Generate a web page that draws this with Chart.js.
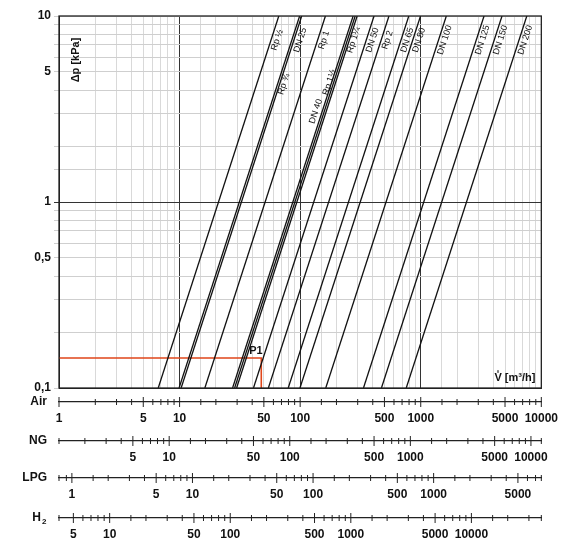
<!DOCTYPE html>
<html><head><meta charset="utf-8">
<script src="https://cdn.jsdelivr.net/npm/chart.js@4.4.0/dist/chart.umd.min.js"></script>
<style>html,body{margin:0;padding:0;background:#fff}#w{width:567px;height:539px}</style>
</head><body><div id="w"><canvas id="c"></canvas></div>
<script>
// Pipe series: name, flow (m3/h, Air) at Δp = 0.1 kPa, Δp where label sits, label side
const lineNames = ["Rp ½","Rp ¾","DN 25","Rp 1","DN 40","Rp 1¼","Rp 1½","DN 50","Rp 2","DN 65","DN 80","DN 100","DN 125","DN 150","DN 200"];
const flowAtMin = [6.65, 9.9, 10.3, 16.2, 27.5, 28.6, 29.7, 41, 54.5, 79.6, 99.6, 163, 335, 472, 758];
const labelDp = [7.6, 4.4, 7.6, 7.6, 3.0, 7.6, 4.3, 7.6, 7.6, 7.6, 7.6, 7.6, 7.6, 7.6, 7.6];
const labelSide = [-1,-1,-1,-1,1,-1,1,-1,-1,-1,-1,-1,-1,-1,-1];
const yTickLabels = [0.1, 0.5, 1, 5, 10];
const p1Flow = 47.6, p1Dp = 0.145;
const subAxes = [
  {id:"xAir", name:"Air", min:1, max:10000},
  {id:"xNG", name:"NG", min:1.22, max:12190},
  {id:"xLPG", name:"LPG", min:0.782, max:7816},
  {id:"xH2", name:"H2", min:3.8, max:38000}
];
const subHeights = [39, 37, 40, 21];

const FONT = "'Liberation Sans', Arial, sans-serif";
const datasets = lineNames.map((n,i)=>({
  label:n, data:[{x:flowAtMin[i],y:0.1},{x:flowAtMin[i]*10,y:10}],
  borderColor:'#111', borderWidth:1.3, pointRadius:0, xAxisID:'x', yAxisID:'y'
}));
datasets.push({label:'P1', data:[{x:1,y:p1Dp},{x:p1Flow,y:p1Dp},{x:p1Flow,y:0.1}],
  borderColor:'#e0461a', borderWidth:1.6, pointRadius:0, xAxisID:'x', yAxisID:'y'});

function isLabeled(v){
  const m = v/Math.pow(10,Math.floor(Math.log10(v)+1e-9));
  return Math.abs(m-1)<1e-6 || Math.abs(m-5)<1e-6;
}
function fmt(v){ return String(+v.toPrecision(6)).replace('.',','); }

const scales = {
  x:{type:'logarithmic', min:1, max:10000, weight:0,
     ticks:{display:false, autoSkip:false},
     grid:{drawTicks:false, color:c=>{const v=c.tick&&c.tick.value; return (v===10||v===100||v===1000)?'#333':'#cfcfcf';}, lineWidth:c=>{const v=c.tick&&c.tick.value; return (v===10||v===100||v===1000)?1:0.8;}},
     border:{display:true,color:'#222'},
     afterFit:s=>{s.height=14;}},
  y:{type:'logarithmic', min:0.1, max:10,
     ticks:{autoSkip:false, color:'#111', font:{family:FONT,size:12,weight:'bold'}, padding:3,
       callback:(v)=>yTickLabels.some(t=>Math.abs(t-v)<1e-9)?fmt(v):''},
     grid:{tickLength:5, color:c=>{const v=c.tick&&c.tick.value; return (v===1)?'#333':'#cfcfcf';}},
     border:{display:true,color:'#222'},
     afterFit:s=>{s.width=59;}}
};
subAxes.forEach((a,i)=>{
  scales[a.id]={type:'logarithmic', axis:'x', position:'bottom', min:a.min, max:a.max, weight:i+1,
    ticks:{autoSkip:false, maxRotation:0, color:'#111', padding:9, font:{family:FONT,size:12,weight:'bold'},
      callback:(v)=>isLabeled(v)?String(Math.round(v)):''},
    grid:{display:false, drawTicks:false},
    border:{display:true,color:'#222',width:1.2},
    afterFit:s=>{s.height=subHeights[i];}};
});

const deco = {
  id:'deco',
  afterDraw(chart){
    const ctx=chart.ctx, ca=chart.chartArea, x=chart.scales.x, y=chart.scales.y;
    ctx.save();
    ctx.strokeStyle='#222'; ctx.lineWidth=1.3;
    ctx.strokeRect(ca.left,ca.top,ca.right-ca.left,ca.bottom-ca.top);
    // sub-axis ticks and names
    subAxes.forEach(a=>{
      const s=chart.scales[a.id], yy=s.top;
      ctx.strokeStyle='#222'; ctx.lineWidth=1;
      s.ticks.forEach(t=>{
        const px=s.getPixelForValue(t.value); if(px<ca.left-0.5||px>ca.right+0.5) return;
        const L=isLabeled(t.value)?5:3;
        ctx.beginPath(); ctx.moveTo(px,yy-L); ctx.lineTo(px,yy+L); ctx.stroke();
      });
      ctx.fillStyle='#111'; ctx.font='bold 12px '+FONT; ctx.textAlign='right'; ctx.textBaseline='middle';
      if(a.name==='H2'){
        ctx.fillText('H',41,yy); ctx.font='bold 8px '+FONT; ctx.textAlign='left'; ctx.fillText('2',42,yy+4);
      } else ctx.fillText(a.name,47,yy);
    });
    // line labels
    ctx.font='9px '+FONT; ctx.fillStyle='#111'; ctx.textBaseline='middle'; ctx.textAlign='center';
    lineNames.forEach((n,i)=>{
      const dp=labelDp[i], v=flowAtMin[i]*Math.sqrt(dp/0.1);
      const px=x.getPixelForValue(v), py=y.getPixelForValue(dp);
      const p2x=x.getPixelForValue(flowAtMin[i]*10), p2y=y.getPixelForValue(10);
      const p0x=x.getPixelForValue(flowAtMin[i]), p0y=y.getPixelForValue(0.1);
      const ang=Math.atan2(p2y-p0y,p2x-p0x);
      const off=6*labelSide[i];
      ctx.save(); ctx.translate(px,py); ctx.rotate(ang); ctx.fillText(n,0,-off); ctx.restore();
    });
    // titles
    ctx.fillStyle='#111'; ctx.font='bold 11px '+FONT;
    ctx.save(); ctx.translate(ca.left+17,ca.top+44); ctx.rotate(-Math.PI/2); ctx.textAlign='center'; ctx.fillText('Δp [kPa]',0,0); ctx.restore();
    ctx.textAlign='right'; ctx.textBaseline='alphabetic';
    ctx.fillText('V̊ [m³/h]',ca.right-6,ca.bottom-7);
    ctx.textAlign='left';
    ctx.fillText('P1',x.getPixelForValue(p1Flow)-12,y.getPixelForValue(p1Dp)-4);
    ctx.restore();
  }
};

new Chart(document.getElementById('c'),{
  type:'line', data:{datasets},
  options:{responsive:true, maintainAspectRatio:false, animation:false,
    layout:{padding:{left:0,right:22,top:16,bottom:0}},
    plugins:{legend:{display:false}, tooltip:{enabled:false}},
    scales},
  plugins:[deco]
});
</script></body></html>
